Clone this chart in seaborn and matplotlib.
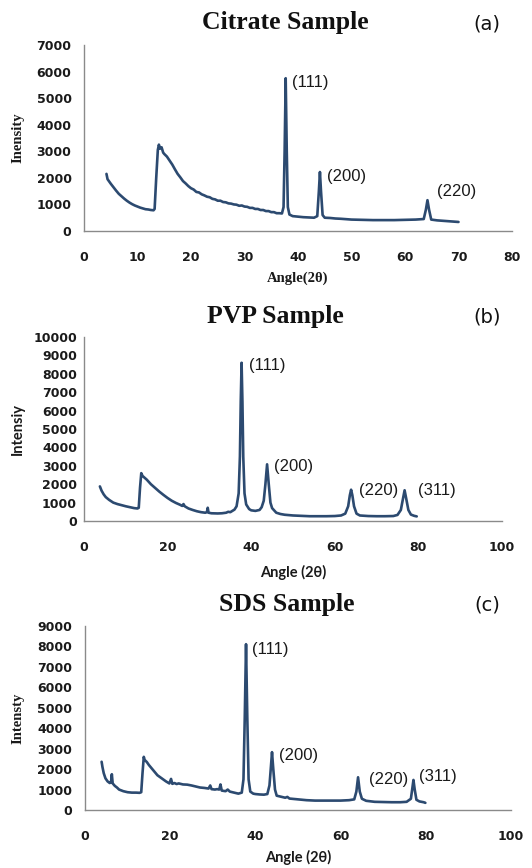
import matplotlib
matplotlib.use("Agg")
import matplotlib.pyplot as plt
import seaborn as sns
import pandas as pd

# ---- Citrate sample diffractogram ----
citrate_angle = [4.2, 4.4, 5.0, 5.5, 6.0, 6.5, 7.0, 7.5, 8.0, 8.5, 9.0, 9.5, 10.0, 10.5, 11.0,
                 11.5, 12.0, 12.5, 13.0, 13.2, 13.5, 13.8, 14.0, 14.2, 14.5, 14.8, 15.0, 15.5,
                 16.0, 16.5, 17.0, 17.5, 18.0, 18.5, 19.0, 19.5, 20.0, 20.5, 21.0, 21.5, 22.0,
                 22.5, 23.0, 23.5, 24.0, 24.5, 25.0, 25.5, 26.0, 26.5, 27.0, 27.5, 28.0, 28.5,
                 29.0, 29.5, 30.0, 30.5, 31.0, 31.5, 32.0, 32.5, 33.0, 33.5, 34.0, 34.5, 35.0,
                 35.5, 36.0, 36.5, 37.0, 37.3, 37.5, 37.7, 37.9, 38.1, 38.4, 39.0, 40.0, 41.0,
                 42.0, 43.0, 43.6, 43.9, 44.1, 44.3, 44.6, 45.0, 46.0, 47.0, 48.0, 50.0, 52.0,
                 54.0, 56.0, 58.0, 60.0, 62.0, 63.5, 63.9, 64.2, 64.5, 64.9, 66.0, 68.0, 70.0]
citrate_int = [2150, 1950, 1780, 1650, 1520, 1400, 1310, 1220, 1140, 1070, 1010, 960, 920, 880, 850,
               820, 810, 790, 780, 830, 2000, 3050, 3250, 3100, 3150, 2950, 2900, 2800,
               2650, 2500, 2320, 2150, 2020, 1880, 1790, 1690, 1610, 1560, 1470, 1450, 1380,
               1340, 1290, 1270, 1210, 1190, 1140, 1140, 1090, 1080, 1040, 1030, 1000, 990,
               950, 960, 920, 910, 870, 870, 830, 830, 790, 790, 750, 750, 710,
               710, 670, 670, 660, 900, 3000, 5750, 3000, 900, 620, 560, 540, 520,
               510, 500, 560, 1500, 2220, 1500, 600, 500, 490, 470, 460, 430, 420,
               410, 410, 410, 420, 430, 450, 800, 1160, 800, 430, 400, 370, 340]

# ---- PVP sample diffractogram ----
pvp_angle = [3.8, 4.2, 4.7, 5.2, 6.0, 7.0, 8.0, 9.0, 10.0, 11.0, 12.0, 12.8, 13.1, 13.4, 13.7,
             14.0, 14.5, 15.0, 16.0, 17.0, 18.0, 19.0, 20.0, 21.0, 22.0, 23.0, 23.5, 23.8, 24.1,
             25.0, 26.0, 27.0, 28.0, 29.0, 29.4, 29.6, 29.8, 30.5, 32.0, 33.0, 34.0, 34.5, 35.0,
             35.5, 36.0, 36.5, 37.0, 37.3, 37.5, 37.7, 37.9, 38.1, 38.4, 38.8, 39.5, 40.0, 41.0,
             42.0, 42.5, 43.0, 43.4, 43.8, 44.2, 44.6, 45.0, 46.0, 47.0, 48.0, 50.0, 52.0, 54.0,
             56.0, 58.0, 60.0, 61.5, 62.5, 63.2, 63.6, 63.9, 64.2, 64.6, 65.2, 66.0, 68.0, 70.0,
             72.0, 74.0, 75.0, 75.8, 76.3, 76.7, 77.1, 77.6, 78.2, 79.0, 79.6]
pvp_int = [1880, 1650, 1450, 1300, 1150, 1000, 920, 860, 800, 750, 700, 680, 720, 1800, 2600,
           2450, 2350, 2250, 2000, 1800, 1600, 1420, 1250, 1100, 980, 880, 820, 920, 800,
           680, 600, 530, 480, 450, 480, 720, 450, 420, 410, 420, 450, 500, 480,
           550, 620, 800, 1500, 3500, 6500, 8600, 6500, 3500, 1500, 900, 650, 580, 550,
           600, 750, 1100, 2000, 3080, 2000, 1000, 700, 450, 380, 340, 300, 280, 260,
           260, 260, 270, 300, 400, 800, 1400, 1700, 1400, 800, 400, 300, 270, 260,
           260, 270, 330, 600, 1200, 1670, 1200, 600, 350, 280, 250]

# ---- SDS sample diffractogram ----
sds_angle = [3.9, 4.1, 4.4, 4.8, 5.3, 5.8, 6.1, 6.3, 6.5, 7.0, 7.5, 8.0, 9.0, 10.0, 11.0, 12.0,
             12.8, 13.2, 13.5, 13.8, 14.0, 14.5, 15.0, 16.0, 17.0, 18.0, 19.0, 19.8, 20.2, 20.5,
             21.0, 21.5, 22.0, 23.0, 24.0, 25.0, 26.0, 27.0, 28.0, 29.0, 29.4, 29.7, 30.5, 31.0,
             31.5, 31.8, 32.1, 33.0, 33.5, 34.0, 35.0, 36.0, 36.8, 37.2, 37.5, 37.8, 38.1, 38.4,
             38.8, 39.5, 40.0, 41.0, 42.0, 42.8, 43.3, 43.6, 43.9, 44.2, 44.6, 45.0, 46.0, 47.0,
             47.5, 48.0, 50.0, 52.0, 54.0, 56.0, 58.0, 60.0, 62.0, 63.2, 63.7, 64.1, 64.5, 65.0,
             66.0, 68.0, 70.0, 72.0, 74.0, 75.5, 76.5, 76.8, 77.1, 77.4, 77.8, 78.5, 79.5, 79.9]
sds_int = [2360, 2100, 1800, 1550, 1400, 1320, 1350, 1750, 1300, 1180, 1100, 1000, 920, 870, 850, 850,
           840, 870, 1800, 2600, 2450, 2350, 2200, 1950, 1700, 1550, 1400, 1300, 1520, 1280,
           1320, 1270, 1300, 1250, 1240, 1200, 1150, 1100, 1080, 1050, 1200, 1020, 1000, 1020,
           1000, 1250, 950, 920, 1000, 900, 850, 800, 850, 1500, 4500, 8110, 4500, 1500,
           900, 800, 780, 760, 750, 780, 1200, 2000, 2830, 2000, 1000, 700, 650, 600,
           640, 560, 520, 480, 460, 460, 460, 460, 480, 520, 900, 1600, 900, 550,
           450, 400, 390, 380, 380, 400, 550, 1000, 1470, 1000, 500, 420, 380, 350]

titles = ["Citrate Sample", "PVP Sample", "SDS Sample"]
panel_tags = ["(a)", "(b)", "(c)"]
x_labels = ["Angle(2θ)", "Angle (2θ)", "Angle (2θ)"]
y_labels = ["Inensity", "Intensiy", "Intensty"]

x_ticks = [list(range(0, 81, 10)), list(range(0, 101, 20)), list(range(0, 101, 20))]
y_ticks = [list(range(0, 7001, 1000)), list(range(0, 10001, 1000)), list(range(0, 9001, 1000))]

peak_labels = [["(111)", "(200)", "(220)"],
               ["(111)", "(200)", "(220)", "(311)"],
               ["(111)", "(200)", "(220)", "(311)"]]
peak_label_x = [[38.9, 45.5, 65.9], [39.5, 45.5, 65.8, 79.9], [39.3, 45.6, 66.6, 78.3]]
peak_label_y = [[5590, 2035, 1470], [8460, 2935, 1670, 1670], [7850, 2650, 1515, 1660]]

series = [(citrate_angle, citrate_int), (pvp_angle, pvp_int), (sds_angle, sds_int)]

sns.set_style("white")

W, H = 532, 868
fig = plt.figure(figsize=(W / 100, H / 100), dpi=100)


def fx(px):
    return px / W


def fy(py):
    return 1 - py / H


# pixel boxes: left, right, top, bottom
boxes = [(84, 512, 45, 231), (84, 502, 337, 521), (85, 511, 626, 810)]
title_pos = [(285, 23), (275, 316), (287, 605)]
tag_pos = [(487, 24), (487, 317), (487, 605)]
xlabel_y = [278, 572, 857]
serif_x = [True, False, False]
serif_y = [True, False, True]

line_color = "#2c4a70"
spine_color = "#8a8a8a"

for i, (ang, inten) in enumerate(series):
    l, r, t, b = boxes[i]
    ax = fig.add_axes([fx(l), fy(b), (r - l) / W, (b - t) / H])
    df = pd.DataFrame({"angle": ang, "intensity": inten})
    sns.lineplot(data=df, x="angle", y="intensity", ax=ax, color=line_color,
                 linewidth=1.9, estimator=None, sort=False)

    ax.set_xlim(x_ticks[i][0], x_ticks[i][-1])
    ax.set_ylim(y_ticks[i][0], y_ticks[i][-1])
    ax.set_xticks(x_ticks[i])
    ax.set_yticks(y_ticks[i])
    ax.set_xticklabels([str(v) for v in x_ticks[i]])
    ax.set_yticklabels([str(v) for v in y_ticks[i]])

    for side in ["top", "right"]:
        ax.spines[side].set_visible(False)
    for side in ["left", "bottom"]:
        ax.spines[side].set_color(spine_color)
        ax.spines[side].set_linewidth(1.0)

    ypad = 1.5 if i == 1 else 5.5
    ax.tick_params(axis="y", direction="out", length=3.5, width=0.8, color=spine_color, pad=ypad)
    ax.tick_params(axis="x", direction="out", length=3.5, width=0.8, color=spine_color, pad=11)
    for lab in ax.get_xticklabels() + ax.get_yticklabels():
        lab.set_fontfamily("DejaVu Sans")
        lab.set_fontweight("bold")
        lab.set_fontsize(9)
        lab.set_color("#1a1a1a")

    # axis labels
    xfam = ["Liberation Serif", "DejaVu Serif"] if serif_x[i] else ["Lato", "DejaVu Sans"]
    yfam = ["Liberation Serif"] if serif_y[i] else ["Lato"]
    ax.set_xlabel(x_labels[i], fontsize=10.5, fontweight="bold", family=xfam, color="#1a1a1a")
    ax.set_ylabel(y_labels[i], fontsize=10.5, fontweight="bold", family=yfam, color="#1a1a1a")
    ax.xaxis.label.set_va("center")
    ax.yaxis.label.set_va("center")
    ax.xaxis.set_label_coords(0.5, (b - xlabel_y[i]) / (b - t))
    ax.yaxis.set_label_coords((18 - l) / (r - l), 0.5)

    # reflection indices
    for txt, px_, py_ in zip(peak_labels[i], peak_label_x[i], peak_label_y[i]):
        ax.text(px_, py_, txt, ha="left", va="center", fontsize=12,
                family="Liberation Sans", color="#1a1a1a")

    fig.text(fx(title_pos[i][0]), fy(title_pos[i][1]), titles[i], ha="center", va="center",
             fontsize=18.5, fontweight="bold", family="Liberation Serif", color="#111111")
    fig.text(fx(tag_pos[i][0]), fy(tag_pos[i][1]), panel_tags[i], ha="center", va="center",
             fontsize=14, family="DejaVu Sans", color="#111111")

fig.savefig("out.png", dpi=100, facecolor="white")
